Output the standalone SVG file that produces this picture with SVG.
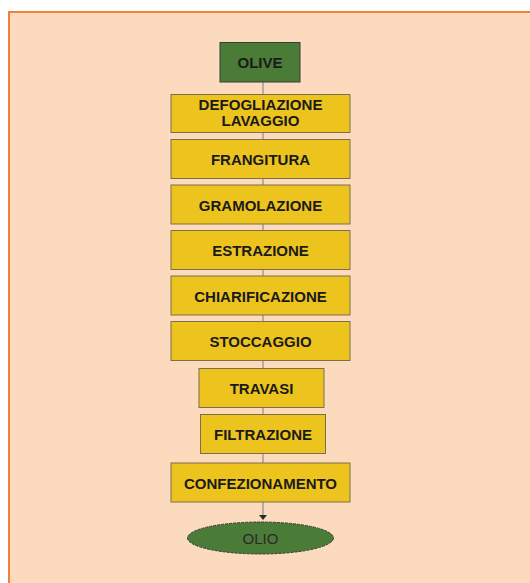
<svg xmlns="http://www.w3.org/2000/svg" width="530" height="583" viewBox="0 0 530 583">
  <style>
    .step { fill: #EDC31E; stroke: #7E6E4E; stroke-width: 1; }
    .green { fill: #4A7B37; stroke: #3A3A3A; stroke-width: 1; }
    .lbl { font-family: "Liberation Sans", Arial, sans-serif; font-size: 15px; font-weight: bold; fill: #1A1A1A; text-anchor: middle; }
    .end { font-family: "Liberation Sans", Arial, sans-serif; font-size: 15px; fill: #2A2A2A; text-anchor: middle; }
    .link { stroke: #8C8C8C; stroke-width: 1.2; fill: none; }
    .head { fill: #2A2A2A; }
  </style>

  <!-- page background and framed panel -->
  <rect x="0" y="0" width="530" height="583" fill="#FFFFFF"/>
  <rect x="9" y="12" width="540" height="600" fill="#FCDABD" stroke="#F0803C" stroke-width="2"/>

  <!-- connectors -->
  <g id="connectors">
    <line class="link" x1="263" y1="82" x2="263" y2="94"/>
    <line class="link" x1="263" y1="133" x2="263" y2="139"/>
    <line class="link" x1="263" y1="178" x2="263" y2="185"/>
    <line class="link" x1="263" y1="224" x2="263" y2="230"/>
    <line class="link" x1="263" y1="269" x2="263" y2="276"/>
    <line class="link" x1="263" y1="315" x2="263" y2="321"/>
    <line class="link" x1="263" y1="361" x2="263" y2="368"/>
    <line class="link" x1="263" y1="407" x2="263" y2="414"/>
    <line class="link" x1="263" y1="453" x2="263" y2="463"/>
    <line class="link" x1="263" y1="502" x2="263" y2="516"/>
    <path class="head" d="M259,515 L267,515 L263,520 Z"/>
  </g>

  <g id="olive">
    <rect class="green" x="220" y="42.5" width="80" height="39.5"/>
    <text class="lbl" x="260" y="67.5" font-size="14.5">OLIVE</text>
  </g>

  <g id="defogliazione">
    <rect class="step" x="171" y="94.5" width="179" height="38"/>
    <text class="lbl" x="260.5" y="109.8" font-size="12.5" textLength="124" lengthAdjust="spacingAndGlyphs">DEFOGLIAZIONE</text>
    <text class="lbl" x="260.5" y="126" font-size="12.5" textLength="78" lengthAdjust="spacingAndGlyphs">LAVAGGIO</text>
  </g>

  <g id="frangitura">
    <rect class="step" x="171" y="139.5" width="179" height="39"/>
    <text class="lbl" x="260.5" y="165">FRANGITURA</text>
  </g>

  <g id="gramolazione">
    <rect class="step" x="171" y="185" width="179" height="39"/>
    <text class="lbl" x="260.5" y="210.5">GRAMOLAZIONE</text>
  </g>

  <g id="estrazione">
    <rect class="step" x="171" y="230.5" width="179" height="39"/>
    <text class="lbl" x="260.5" y="256">ESTRAZIONE</text>
  </g>

  <g id="chiarificazione">
    <rect class="step" x="171" y="276" width="179" height="39"/>
    <text class="lbl" x="260.5" y="301.5">CHIARIFICAZIONE</text>
  </g>

  <g id="stoccaggio">
    <rect class="step" x="171" y="321.5" width="179" height="39"/>
    <text class="lbl" x="260.5" y="347">STOCCAGGIO</text>
  </g>

  <g id="travasi">
    <rect class="step" x="199" y="368.5" width="125" height="39"/>
    <text class="lbl" x="261.5" y="394">TRAVASI</text>
  </g>

  <g id="filtrazione">
    <rect class="step" x="200.5" y="414.5" width="125" height="39"/>
    <text class="lbl" x="263" y="440">FILTRAZIONE</text>
  </g>

  <g id="confezionamento">
    <rect class="step" x="171" y="463" width="179" height="39"/>
    <text class="lbl" x="260.5" y="488.5">CONFEZIONAMENTO</text>
  </g>

  <g id="olio">
    <ellipse class="green" cx="260.5" cy="538" rx="73" ry="16" stroke-dasharray="3 1"/>
    <text class="end" x="260.5" y="544">OLIO</text>
  </g>
</svg>
